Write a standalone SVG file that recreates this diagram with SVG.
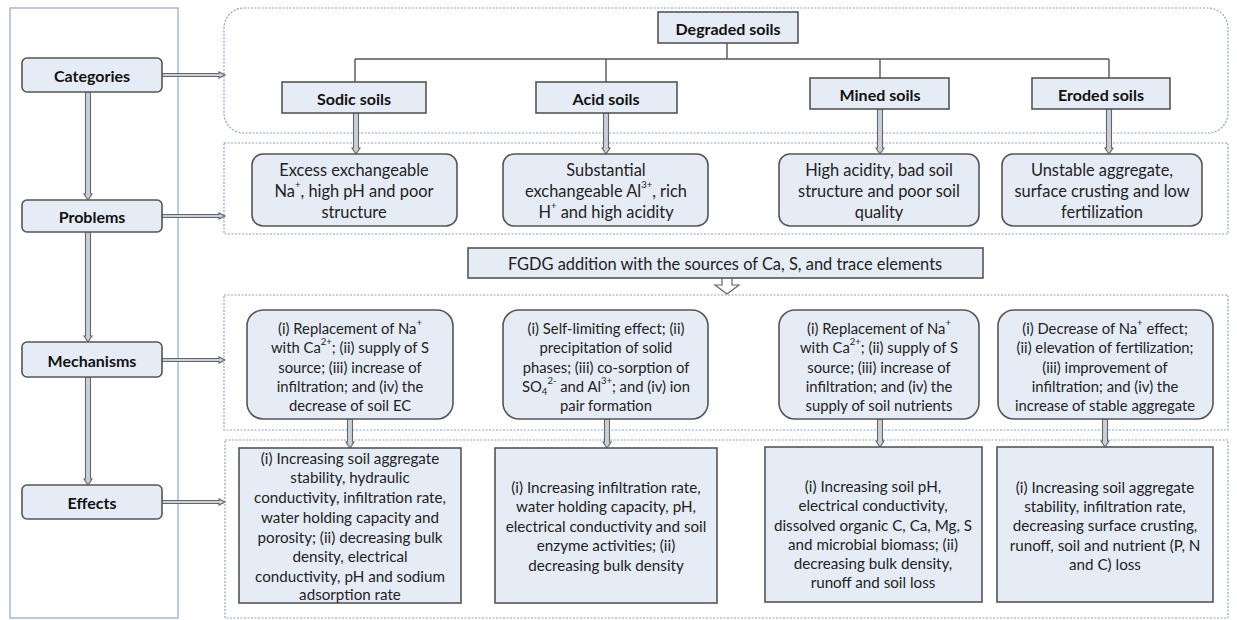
<svg xmlns="http://www.w3.org/2000/svg" width="1237" height="620" viewBox="0 0 1237 620">
<style>
text{font-family:Lato,"Open Sans","Liberation Sans",sans-serif;fill:#222;text-anchor:middle;dominant-baseline:central}
.lbl{font-weight:bold;font-size:16px;fill:#111}
.pt{font-size:16.4px}
.mt{font-size:14.8px}
.et{font-size:15.2px}
.sup{font-size:9.5px;baseline-shift:super}
.sub{font-size:9.5px;baseline-shift:sub}
.box{fill:#e6ecf6;stroke:#555;stroke-width:1.6}
.panel{fill:none;stroke:#8fa2c6;stroke-width:1.2;stroke-dasharray:2 1.5}
.outer{fill:#fff;stroke:#a9b8d4;stroke-width:1.5}
.tree{fill:none;stroke:#555;stroke-width:1.4}
.barrow{fill:#c9d0da;stroke:#666;stroke-width:1.1}
.hollow{fill:#fff;stroke:#666;stroke-width:1.2}
</style>
<rect width="1237" height="620" fill="#fff"/>

<g id="left-panel"><rect class="outer" x="10" y="8" width="168" height="610"/></g>

<g id="panels">
<rect class="panel" x="224" y="8" width="1004" height="125" rx="20"/>
<rect class="panel" x="224" y="143" width="1004" height="91"/>
<rect class="panel" x="224" y="295" width="1004" height="135"/>
<rect class="panel" x="225" y="440" width="1003" height="178"/>
</g>

<g id="connectors">
<path class="barrow" d="M85.5 92 L85.5 194 L84 194 L88 200 L92 194 L90.5 194 L90.5 92 Z"/>
<path class="barrow" d="M85.5 232 L85.5 336 L84 336 L88 342 L92 336 L90.5 336 L90.5 232 Z"/>
<path class="barrow" d="M85.5 377 L85.5 479 L84 479 L88 485 L92 479 L90.5 479 L90.5 377 Z"/>
<path class="barrow" d="M162 73.5 L219 73.5 L219 72 L225 75 L219 78 L219 76.5 L162 76.5 Z"/>
<path class="barrow" d="M162 214.5 L219 214.5 L219 213 L225 216 L219 219 L219 217.5 L162 217.5 Z"/>
<path class="barrow" d="M162 358.5 L219 358.5 L219 357 L225 360 L219 363 L219 361.5 L162 361.5 Z"/>
<path class="barrow" d="M162 500.5 L219 500.5 L219 499 L225 502 L219 505 L219 503.5 L162 503.5 Z"/>
<path class="tree" d="M727 43 L727 59 M355 59 L1109 59 M355 59 L355 82 M606 59 L606 82 M880 59 L880 78 M1109 59 L1109 78"/>
<path class="barrow" d="M353.5 113 L353.5 148 L352 148 L356 154 L360 148 L358.5 148 L358.5 113 Z"/>
<path class="barrow" d="M603.5 113 L603.5 148 L602 148 L606 154 L610 148 L608.5 148 L608.5 113 Z"/>
<path class="barrow" d="M877.5 109 L877.5 148 L876 148 L880 154 L884 148 L882.5 148 L882.5 109 Z"/>
<path class="barrow" d="M1106.5 109 L1106.5 148 L1105 148 L1109 154 L1113 148 L1111.5 148 L1111.5 109 Z"/>
<path class="hollow" d="M722 278 L722 285 L715 285 L727 294 L739 285 L732 285 L732 278"/>
<path class="barrow" d="M347.5 419 L347.5 442 L346 442 L350 448 L354 442 L352.5 442 L352.5 419 Z"/>
<path class="barrow" d="M604.5 419 L604.5 442 L603 442 L607 448 L611 442 L609.5 442 L609.5 419 Z"/>
<path class="barrow" d="M877.5 419 L877.5 441 L876 441 L880 447 L884 441 L882.5 441 L882.5 419 Z"/>
<path class="barrow" d="M1102.5 419 L1102.5 441 L1101 441 L1105 447 L1109 441 L1107.5 441 L1107.5 419 Z"/>
</g>

<g id="categories"><rect class="box" x="22" y="58" width="140" height="34" rx="5"/><text class="lbl" x="92" y="75">Categories</text></g>
<g id="problems"><rect class="box" x="22" y="200" width="140" height="32" rx="5"/><text class="lbl" x="92" y="216">Problems</text></g>
<g id="mechanisms"><rect class="box" x="22" y="342" width="140" height="35" rx="5"/><text class="lbl" x="92" y="360">Mechanisms</text></g>
<g id="effects"><rect class="box" x="22" y="485" width="140" height="34" rx="5"/><text class="lbl" x="92" y="502">Effects</text></g>

<g id="degraded"><rect class="box" x="658" y="12" width="140" height="31"/><text class="lbl" x="728" y="28">Degraded soils</text></g>
<g id="sodic"><rect class="box" x="282" y="82" width="144" height="31"/><text class="lbl" x="354" y="98">Sodic soils</text></g>
<g id="acid"><rect class="box" x="536" y="82" width="141" height="31"/><text class="lbl" x="606" y="98">Acid soils</text></g>
<g id="mined"><rect class="box" x="810" y="78" width="139" height="31"/><text class="lbl" x="880" y="94">Mined soils</text></g>
<g id="eroded"><rect class="box" x="1032" y="78" width="138" height="31"/><text class="lbl" x="1101" y="94">Eroded soils</text></g>

<g id="prob-sodic"><rect class="box" x="252" y="154" width="205" height="72" rx="11"/>
<text class="pt"><tspan x="354" y="169">Excess exchangeable</tspan><tspan x="354" y="190">Na<tspan class="sup">+</tspan>, high pH and poor</tspan><tspan x="354" y="211">structure</tspan></text></g>
<g id="prob-acid"><rect class="box" x="503" y="154" width="205" height="72" rx="11"/>
<text class="pt"><tspan x="606" y="169">Substantial</tspan><tspan x="606" y="190">exchangeable Al<tspan class="sup">3+</tspan>, rich</tspan><tspan x="606" y="211">H<tspan class="sup">+</tspan> and high acidity</tspan></text></g>
<g id="prob-mined"><rect class="box" x="779" y="154" width="200" height="72" rx="11"/>
<text class="pt"><tspan x="879" y="169">High acidity, bad soil</tspan><tspan x="879" y="190">structure and poor soil</tspan><tspan x="879" y="211">quality</tspan></text></g>
<g id="prob-eroded"><rect class="box" x="1002" y="154" width="200" height="72" rx="11"/>
<text class="pt"><tspan x="1102" y="169">Unstable aggregate,</tspan><tspan x="1102" y="190">surface crusting and low</tspan><tspan x="1102" y="211">fertilization</tspan></text></g>

<g id="fgdg"><rect class="box" x="468" y="248" width="515" height="30"/><text class="pt" x="725" y="263">FGDG addition with the sources of Ca, S, and trace elements</text></g>

<g id="mech-sodic"><rect class="box" x="247" y="310" width="206" height="109" rx="16"/>
<text class="mt"><tspan x="350" y="328">(i) Replacement of Na<tspan class="sup">+</tspan></tspan><tspan x="350" y="347">with Ca<tspan class="sup">2+</tspan>; (ii) supply of S</tspan><tspan x="350" y="367">source; (iii) increase of</tspan><tspan x="350" y="386">infiltration; and (iv) the</tspan><tspan x="350" y="405">decrease of soil EC</tspan></text></g>
<g id="mech-acid"><rect class="box" x="503" y="310" width="205" height="109" rx="16"/>
<text class="mt"><tspan x="606" y="328">(i) Self-limiting effect; (ii)</tspan><tspan x="606" y="347">precipitation of solid</tspan><tspan x="606" y="367">phases; (iii) co-sorption of</tspan><tspan x="606" y="386">SO<tspan class="sub">4</tspan><tspan class="sup">2-</tspan> and Al<tspan class="sup">3+</tspan>; and (iv) ion</tspan><tspan x="606" y="405">pair formation</tspan></text></g>
<g id="mech-mined"><rect class="box" x="779" y="310" width="200" height="109" rx="16"/>
<text class="mt"><tspan x="879" y="328">(i) Replacement of Na<tspan class="sup">+</tspan></tspan><tspan x="879" y="347">with Ca<tspan class="sup">2+</tspan>; (ii) supply of S</tspan><tspan x="879" y="367">source; (iii) increase of</tspan><tspan x="879" y="386">infiltration; and (iv) the</tspan><tspan x="879" y="405">supply of soil nutrients</tspan></text></g>
<g id="mech-eroded"><rect class="box" x="998" y="310" width="215" height="109" rx="16"/>
<text class="mt"><tspan x="1105" y="328">(i) Decrease of Na<tspan class="sup">+</tspan> effect;</tspan><tspan x="1105" y="347">(ii) elevation of fertilization;</tspan><tspan x="1105" y="367">(iii) improvement of</tspan><tspan x="1105" y="386">infiltration; and (iv) the</tspan><tspan x="1105" y="405">increase of stable aggregate</tspan></text></g>

<g id="eff-sodic"><rect class="box" x="239" y="448" width="222" height="155"/>
<text class="et"><tspan x="350" y="458">(i) Increasing soil aggregate</tspan><tspan x="350" y="477">stability, hydraulic</tspan><tspan x="350" y="497">conductivity, infiltration rate,</tspan><tspan x="350" y="517">water holding capacity and</tspan><tspan x="350" y="537">porosity; (ii) decreasing bulk</tspan><tspan x="350" y="556">density, electrical</tspan><tspan x="350" y="576">conductivity, pH and sodium</tspan><tspan x="350" y="594">adsorption rate</tspan></text></g>
<g id="eff-acid"><rect class="box" x="495" y="448" width="222" height="155"/>
<text class="et"><tspan x="606" y="487">(i) Increasing infiltration rate,</tspan><tspan x="606" y="506">water holding capacity, pH,</tspan><tspan x="606" y="526">electrical conductivity and soil</tspan><tspan x="606" y="545">enzyme activities; (ii)</tspan><tspan x="606" y="565">decreasing bulk density</tspan></text></g>
<g id="eff-mined"><rect class="box" x="765" y="447" width="217" height="155"/>
<text class="et"><tspan x="873" y="486">(i) Increasing soil pH,</tspan><tspan x="873" y="505">electrical conductivity,</tspan><tspan x="873" y="525">dissolved organic C, Ca, Mg, S</tspan><tspan x="873" y="544">and microbial biomass; (ii)</tspan><tspan x="873" y="563">decreasing bulk density,</tspan><tspan x="873" y="582">runoff and soil loss</tspan></text></g>
<g id="eff-eroded"><rect class="box" x="997" y="447" width="216" height="155"/>
<text class="et"><tspan x="1105" y="487">(i) Increasing soil aggregate</tspan><tspan x="1105" y="506">stability, infiltration rate,</tspan><tspan x="1105" y="525">decreasing surface crusting,</tspan><tspan x="1105" y="545">runoff, soil and nutrient (P, N</tspan><tspan x="1105" y="564">and C) loss</tspan></text></g>
</svg>
